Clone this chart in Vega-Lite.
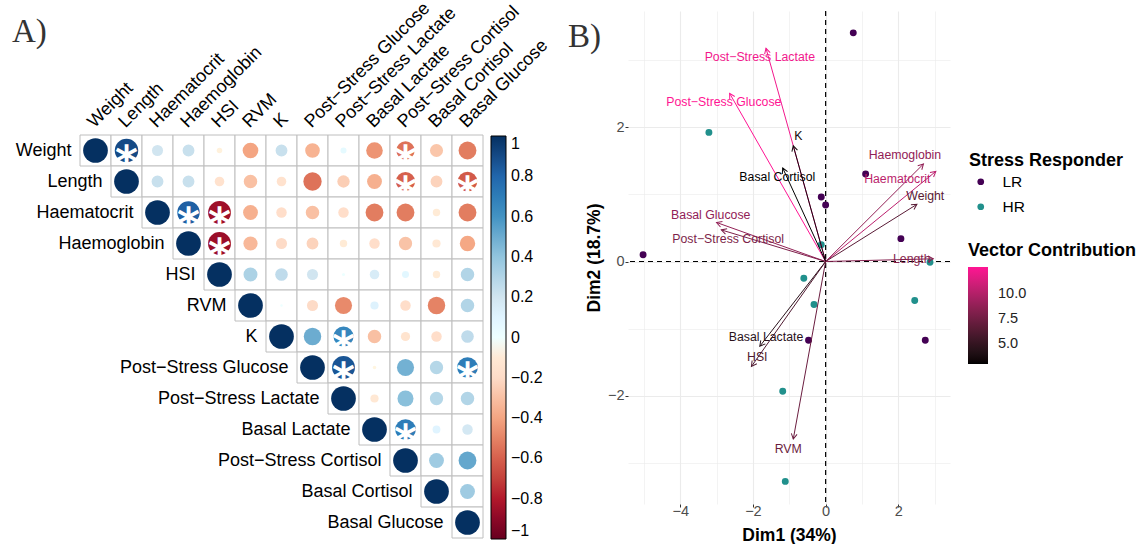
{
  "$schema": "https://vega.github.io/schema/vega-lite/v6.json",
  "background": "white",
  "padding": {"left": 12, "top": -1, "right": 0, "bottom": 0},
  "autosize": {"type": "pad"},
  "spacing": 145,
  "bounds": "flush",
  "config": {
    "view": {"stroke": null},
    "font": "Liberation Sans",
    "legend": {"padding": 0, "labelFont": "Liberation Sans", "titleFont": "Liberation Sans"}
  },
  "datasets": {
    "vars": [
      {"name": "Weight"}, {"name": "Length"}, {"name": "Haematocrit"}, {"name": "Haemoglobin"},
      {"name": "HSI"}, {"name": "RVM"}, {"name": "K"}, {"name": "Post−Stress Glucose"},
      {"name": "Post−Stress Lactate"}, {"name": "Basal Lactate"}, {"name": "Post−Stress Cortisol"},
      {"name": "Basal Cortisol"}, {"name": "Basal Glucose"}
    ],
    "corr": [
      {"v1": "Weight", "v2": "Weight", "r": 1, "sig": 0},
      {"v1": "Weight", "v2": "Length", "r": 0.9, "sig": 1},
      {"v1": "Weight", "v2": "Haematocrit", "r": 0.2, "sig": 0},
      {"v1": "Weight", "v2": "Haemoglobin", "r": 0.23, "sig": 0},
      {"v1": "Weight", "v2": "HSI", "r": -0.05, "sig": 0},
      {"v1": "Weight", "v2": "RVM", "r": -0.4, "sig": 0},
      {"v1": "Weight", "v2": "K", "r": 0.23, "sig": 0},
      {"v1": "Weight", "v2": "Post−Stress Glucose", "r": -0.35, "sig": 0},
      {"v1": "Weight", "v2": "Post−Stress Lactate", "r": 0.06, "sig": 0},
      {"v1": "Weight", "v2": "Basal Lactate", "r": -0.45, "sig": 0},
      {"v1": "Weight", "v2": "Post−Stress Cortisol", "r": -0.55, "sig": 1},
      {"v1": "Weight", "v2": "Basal Cortisol", "r": -0.28, "sig": 0},
      {"v1": "Weight", "v2": "Basal Glucose", "r": -0.52, "sig": 0},
      {"v1": "Length", "v2": "Length", "r": 1, "sig": 0},
      {"v1": "Length", "v2": "Haematocrit", "r": 0.23, "sig": 0},
      {"v1": "Length", "v2": "Haemoglobin", "r": 0.23, "sig": 0},
      {"v1": "Length", "v2": "HSI", "r": -0.15, "sig": 0},
      {"v1": "Length", "v2": "RVM", "r": -0.3, "sig": 0},
      {"v1": "Length", "v2": "K", "r": -0.15, "sig": 0},
      {"v1": "Length", "v2": "Post−Stress Glucose", "r": -0.55, "sig": 0},
      {"v1": "Length", "v2": "Post−Stress Lactate", "r": -0.25, "sig": 0},
      {"v1": "Length", "v2": "Basal Lactate", "r": -0.36, "sig": 0},
      {"v1": "Length", "v2": "Post−Stress Cortisol", "r": -0.6, "sig": 1},
      {"v1": "Length", "v2": "Basal Cortisol", "r": -0.23, "sig": 0},
      {"v1": "Length", "v2": "Basal Glucose", "r": -0.62, "sig": 1},
      {"v1": "Haematocrit", "v2": "Haematocrit", "r": 1, "sig": 0},
      {"v1": "Haematocrit", "v2": "Haemoglobin", "r": 0.82, "sig": 1},
      {"v1": "Haematocrit", "v2": "HSI", "r": -0.85, "sig": 1},
      {"v1": "Haematocrit", "v2": "RVM", "r": -0.36, "sig": 0},
      {"v1": "Haematocrit", "v2": "K", "r": -0.18, "sig": 0},
      {"v1": "Haematocrit", "v2": "Post−Stress Glucose", "r": -0.3, "sig": 0},
      {"v1": "Haematocrit", "v2": "Post−Stress Lactate", "r": -0.18, "sig": 0},
      {"v1": "Haematocrit", "v2": "Basal Lactate", "r": -0.52, "sig": 0},
      {"v1": "Haematocrit", "v2": "Post−Stress Cortisol", "r": -0.52, "sig": 0},
      {"v1": "Haematocrit", "v2": "Basal Cortisol", "r": -0.09, "sig": 0},
      {"v1": "Haematocrit", "v2": "Basal Glucose", "r": -0.52, "sig": 0},
      {"v1": "Haemoglobin", "v2": "Haemoglobin", "r": 1, "sig": 0},
      {"v1": "Haemoglobin", "v2": "HSI", "r": -0.86, "sig": 1},
      {"v1": "Haemoglobin", "v2": "RVM", "r": -0.33, "sig": 0},
      {"v1": "Haemoglobin", "v2": "K", "r": -0.2, "sig": 0},
      {"v1": "Haemoglobin", "v2": "Post−Stress Glucose", "r": -0.23, "sig": 0},
      {"v1": "Haemoglobin", "v2": "Post−Stress Lactate", "r": -0.09, "sig": 0},
      {"v1": "Haemoglobin", "v2": "Basal Lactate", "r": -0.18, "sig": 0},
      {"v1": "Haemoglobin", "v2": "Post−Stress Cortisol", "r": -0.29, "sig": 0},
      {"v1": "Haemoglobin", "v2": "Basal Cortisol", "r": -0.11, "sig": 0},
      {"v1": "Haemoglobin", "v2": "Basal Glucose", "r": -0.39, "sig": 0},
      {"v1": "HSI", "v2": "HSI", "r": 1, "sig": 0},
      {"v1": "HSI", "v2": "RVM", "r": 0.32, "sig": 0},
      {"v1": "HSI", "v2": "K", "r": 0.26, "sig": 0},
      {"v1": "HSI", "v2": "Post−Stress Glucose", "r": 0.2, "sig": 0},
      {"v1": "HSI", "v2": "Post−Stress Lactate", "r": 0.015, "sig": 0},
      {"v1": "HSI", "v2": "Basal Lactate", "r": 0.15, "sig": 0},
      {"v1": "HSI", "v2": "Post−Stress Cortisol", "r": 0.08, "sig": 0},
      {"v1": "HSI", "v2": "Basal Cortisol", "r": -0.09, "sig": 0},
      {"v1": "HSI", "v2": "Basal Glucose", "r": 0.3, "sig": 0},
      {"v1": "RVM", "v2": "RVM", "r": 1, "sig": 0},
      {"v1": "RVM", "v2": "K", "r": 0.01, "sig": 0},
      {"v1": "RVM", "v2": "Post−Stress Glucose", "r": -0.2, "sig": 0},
      {"v1": "RVM", "v2": "Post−Stress Lactate", "r": -0.48, "sig": 0},
      {"v1": "RVM", "v2": "Basal Lactate", "r": 0.11, "sig": 0},
      {"v1": "RVM", "v2": "Post−Stress Cortisol", "r": -0.18, "sig": 0},
      {"v1": "RVM", "v2": "Basal Cortisol", "r": -0.5, "sig": 0},
      {"v1": "RVM", "v2": "Basal Glucose", "r": 0.3, "sig": 0},
      {"v1": "K", "v2": "K", "r": 1, "sig": 0},
      {"v1": "K", "v2": "Post−Stress Glucose", "r": 0.5, "sig": 0},
      {"v1": "K", "v2": "Post−Stress Lactate", "r": 0.66, "sig": 1},
      {"v1": "K", "v2": "Basal Lactate", "r": -0.3, "sig": 0},
      {"v1": "K", "v2": "Post−Stress Cortisol", "r": -0.14, "sig": 0},
      {"v1": "K", "v2": "Basal Cortisol", "r": -0.18, "sig": 0},
      {"v1": "K", "v2": "Basal Glucose", "r": 0.26, "sig": 0},
      {"v1": "Post−Stress Glucose", "v2": "Post−Stress Glucose", "r": 1, "sig": 0},
      {"v1": "Post−Stress Glucose", "v2": "Post−Stress Lactate", "r": 0.86, "sig": 1},
      {"v1": "Post−Stress Glucose", "v2": "Basal Lactate", "r": -0.02, "sig": 0},
      {"v1": "Post−Stress Glucose", "v2": "Post−Stress Cortisol", "r": 0.48, "sig": 0},
      {"v1": "Post−Stress Glucose", "v2": "Basal Cortisol", "r": 0.29, "sig": 0},
      {"v1": "Post−Stress Glucose", "v2": "Basal Glucose", "r": 0.7, "sig": 1},
      {"v1": "Post−Stress Lactate", "v2": "Post−Stress Lactate", "r": 1, "sig": 0},
      {"v1": "Post−Stress Lactate", "v2": "Basal Lactate", "r": -0.11, "sig": 0},
      {"v1": "Post−Stress Lactate", "v2": "Post−Stress Cortisol", "r": 0.42, "sig": 0},
      {"v1": "Post−Stress Lactate", "v2": "Basal Cortisol", "r": 0.29, "sig": 0},
      {"v1": "Post−Stress Lactate", "v2": "Basal Glucose", "r": 0.3, "sig": 0},
      {"v1": "Basal Lactate", "v2": "Basal Lactate", "r": 1, "sig": 0},
      {"v1": "Basal Lactate", "v2": "Post−Stress Cortisol", "r": 0.7, "sig": 1},
      {"v1": "Basal Lactate", "v2": "Basal Cortisol", "r": 0.1, "sig": 0},
      {"v1": "Basal Lactate", "v2": "Basal Glucose", "r": 0.18, "sig": 0},
      {"v1": "Post−Stress Cortisol", "v2": "Post−Stress Cortisol", "r": 1, "sig": 0},
      {"v1": "Post−Stress Cortisol", "v2": "Basal Cortisol", "r": 0.36, "sig": 0},
      {"v1": "Post−Stress Cortisol", "v2": "Basal Glucose", "r": 0.52, "sig": 0},
      {"v1": "Basal Cortisol", "v2": "Basal Cortisol", "r": 1, "sig": 0},
      {"v1": "Basal Cortisol", "v2": "Basal Glucose", "r": 0.36, "sig": 0},
      {"v1": "Basal Glucose", "v2": "Basal Glucose", "r": 1, "sig": 0}
    ],
    "scores": [
      {"dim1": 0.76, "dim2": 3.40, "group": "LR"},
      {"dim1": 1.10, "dim2": 1.30, "group": "LR"},
      {"dim1": -0.12, "dim2": 0.96, "group": "LR"},
      {"dim1": 0.0, "dim2": 0.84, "group": "LR"},
      {"dim1": 2.07, "dim2": 0.34, "group": "LR"},
      {"dim1": -5.02, "dim2": 0.10, "group": "LR"},
      {"dim1": -0.47, "dim2": -1.17, "group": "LR"},
      {"dim1": 2.74, "dim2": -1.17, "group": "LR"},
      {"dim1": -3.21, "dim2": 1.92, "group": "HR"},
      {"dim1": -0.12, "dim2": 0.25, "group": "HR"},
      {"dim1": 2.87, "dim2": -0.01, "group": "HR"},
      {"dim1": -0.60, "dim2": -0.25, "group": "HR"},
      {"dim1": -0.32, "dim2": -0.64, "group": "HR"},
      {"dim1": 2.45, "dim2": -0.58, "group": "HR"},
      {"dim1": -1.18, "dim2": -1.93, "group": "HR"},
      {"dim1": -1.11, "dim2": -3.27, "group": "HR"}
    ],
    "vectors": [
      {"name": "Post−Stress Lactate", "dim1": -1.64, "dim2": 3.17, "contrib": 12.2, "lx": -1.81, "ly": 3.04},
      {"name": "Post−Stress Glucose", "dim1": -2.64, "dim2": 2.50, "contrib": 12.64, "lx": -2.80, "ly": 2.37},
      {"name": "K", "dim1": -0.89, "dim2": 1.72, "contrib": 3.5, "lx": -0.75, "ly": 1.86},
      {"name": "Basal Cortisol", "dim1": -1.18, "dim2": 1.39, "contrib": 3.05, "lx": -1.33, "ly": 1.25},
      {"name": "Basal Glucose", "dim1": -3.00, "dim2": 0.58, "contrib": 8.8, "lx": -3.16, "ly": 0.69},
      {"name": "Post−Stress Cortisol", "dim1": -2.87, "dim2": 0.47, "contrib": 8.0, "lx": -2.68, "ly": 0.33},
      {"name": "Haemoglobin", "dim1": 2.69, "dim2": 1.45, "contrib": 8.8, "lx": 2.18, "ly": 1.58},
      {"name": "Haematocrit", "dim1": 3.03, "dim2": 1.34, "contrib": 10.3, "lx": 1.97, "ly": 1.22},
      {"name": "Weight", "dim1": 2.51, "dim2": 0.85, "contrib": 6.6, "lx": 2.74, "ly": 0.98},
      {"name": "Length", "dim1": 2.96, "dim2": 0.04, "contrib": 8.3, "lx": 2.37, "ly": 0.03},
      {"name": "Basal Lactate", "dim1": -1.81, "dim2": -1.26, "contrib": 4.6, "lx": -1.64, "ly": -1.13},
      {"name": "HSI", "dim1": -2.04, "dim2": -1.56, "contrib": 6.2, "lx": -1.88, "ly": -1.42},
      {"name": "RVM", "dim1": -0.89, "dim2": -2.64, "contrib": 7.3, "lx": -1.03, "ly": -2.79}
    ]
  },
  "resolve": {
    "scale": {"x": "independent", "y": "independent", "color": "independent", "size": "independent", "fill": "independent", "stroke": "independent"}
  },
  "hconcat": [
    {
      "width": 403,
      "height": 527,
      "title": {"text": "A)", "font": "Liberation Serif", "fontSize": 33, "fontWeight": "normal", "color": "#333333", "anchor": "start", "frame": "group", "dx": -68, "baseline": "alphabetic", "offset": -76},
      "layer": [
        {
          "data": {"name": "corr"},
          "mark": {"type": "rect", "fill": "white", "stroke": "#BEBEBE", "strokeWidth": 1},
          "encoding": {
            "x": {"field": "v2", "type": "nominal", "axis": null,
              "scale": {"domain": ["Weight", "Length", "Haematocrit", "Haemoglobin", "HSI", "RVM", "K", "Post−Stress Glucose", "Post−Stress Lactate", "Basal Lactate", "Post−Stress Cortisol", "Basal Cortisol", "Basal Glucose"], "paddingInner": 0, "paddingOuter": 0}},
            "y": {"field": "v1", "type": "nominal", "axis": null,
              "scale": {"domain": ["Weight", "Length", "Haematocrit", "Haemoglobin", "HSI", "RVM", "K", "Post−Stress Glucose", "Post−Stress Lactate", "Basal Lactate", "Post−Stress Cortisol", "Basal Cortisol", "Basal Glucose"], "range": [124, 527], "paddingInner": 0, "paddingOuter": 0}}
          }
        },
        {
          "data": {"name": "corr"},
          "mark": {"type": "point", "shape": "circle", "filled": true, "opacity": 1, "strokeWidth": 0},
          "encoding": {
            "x": {"field": "v2", "type": "nominal"},
            "y": {"field": "v1", "type": "nominal"},
            "size": {"field": "r", "type": "quantitative", "legend": null,
              "scale": {"type": "linear", "domain": [-1, 0, 1], "range": [611, 0, 611]}},
            "color": {"field": "r", "type": "quantitative",
              "scale": {"domain": [-1, -0.8, -0.6, -0.4, -0.2, 0, 0.2, 0.4, 0.6, 0.8, 1],
                "range": ["#67001F", "#B2182B", "#D6604D", "#F4A582", "#FDDBC7", "#FFFFFF", "#D1E5F0", "#92C5DE", "#4393C3", "#2166AC", "#053061"]},
              "legend": {"type": "gradient", "title": null, "orient": "none", "legendX": 411, "legendY": 125, "direction": "vertical",
                "gradientLength": 403, "gradientThickness": 15, "gradientStrokeColor": "black", "gradientStrokeWidth": 1,
                "values": [1, 0.8, 0.6, 0.4, 0.2, 0, -0.2, -0.4, -0.6, -0.8, -1], "format": "~g",
                "labelFontSize": 16, "labelColor": "black", "labelOffset": 5, "labelOverlap": false, "labelBaseline": "middle"}}
          }
        },
        {
          "data": {"name": "corr"},
          "transform": [{"filter": "datum.sig == 1"}],
          "mark": {"type": "text", "text": "*", "font": "DejaVu Sans", "fontWeight": "bold", "fontSize": 44, "color": "white", "baseline": "alphabetic", "align": "center", "dy": 26},
          "encoding": {
            "x": {"field": "v2", "type": "nominal"},
            "y": {"field": "v1", "type": "nominal"}
          }
        },
        {
          "data": {"name": "vars"},
          "mark": {"type": "text", "align": "right", "baseline": "middle", "fontSize": 18, "color": "black", "xOffset": -24},
          "encoding": {
            "x": {"field": "name", "type": "nominal"},
            "y": {"field": "name", "type": "nominal"},
            "text": {"field": "name"}
          }
        },
        {
          "data": {"name": "vars"},
          "mark": {"type": "text", "align": "left", "baseline": "alphabetic", "angle": 315, "fontSize": 18, "color": "black", "xOffset": -1, "yOffset": -22},
          "encoding": {
            "x": {"field": "name", "type": "nominal"},
            "y": {"datum": "Weight", "type": "nominal"},
            "text": {"field": "name"}
          }
        }
      ]
    },
    {
      "width": 322,
      "height": 493,
      "title": {"text": "B)", "font": "Liberation Serif", "fontSize": 33, "fontWeight": "normal", "color": "#333333", "anchor": "start", "frame": "group", "dx": -60, "baseline": "alphabetic", "offset": -70},
      "layer": [
        {
          "data": {"values": [{}]},
          "mark": {"type": "rule", "color": "black", "strokeDash": [5, 4], "strokeWidth": 1.2},
          "encoding": {
            "x": {"datum": 0, "type": "quantitative", "title": "Dim1 (34%)",
              "scale": {"domain": [-5.435, 3.42], "nice": false, "zero": false},
              "axis": {"values": [-5, -4, -3, -2, -1, 0, 1, 2, 3], "format": "d",
                "labelExpr": "datum.value % 2 === 0 ? datum.label : ''",
                "grid": true, "gridColor": "#EBEBEB",
                "gridWidth": {"condition": {"test": "datum.value % 2 === 0", "value": 1.1}, "value": 0.6},
                "domain": false, "tickSize": 3,
                "tickColor": {"condition": {"test": "datum.value % 2 === 0", "value": "#333333"}, "value": "transparent"},
                "labelFontSize": 14.5, "labelColor": "#4D4D4D", "labelPadding": -3,
                "titleFontSize": 17.5, "titleFontWeight": "bold", "titleColor": "black", "titlePadding": 9}}
          }
        },
        {
          "data": {"values": [{}]},
          "mark": {"type": "rule", "color": "black", "strokeDash": [5, 4], "strokeWidth": 1.2},
          "encoding": {
            "y": {"datum": 0, "type": "quantitative", "title": "Dim2 (18.7%)",
              "scale": {"domain": [-3.606, 3.725], "nice": false, "zero": false},
              "axis": {"values": [-3, -2, -1, 0, 1, 2, 3], "format": "d",
                "labelExpr": "datum.value % 2 === 0 ? datum.label : ''",
                "grid": true, "gridColor": "#EBEBEB",
                "gridWidth": {"condition": {"test": "datum.value % 2 === 0", "value": 1.1}, "value": 0.6},
                "domain": false, "tickSize": 3,
                "tickColor": {"condition": {"test": "datum.value % 2 === 0", "value": "#333333"}, "value": "transparent"},
                "labelFontSize": 14.5, "labelColor": "#4D4D4D", "labelPadding": 1,
                "titleFontSize": 17.5, "titleFontWeight": "bold", "titleColor": "black", "titlePadding": 4}}
          }
        },
        {
          "data": {"name": "scores"},
          "mark": {"type": "point", "shape": "circle", "filled": true, "size": 48, "opacity": 1, "strokeWidth": 0},
          "encoding": {
            "x": {"field": "dim1", "type": "quantitative", "title": "Dim1 (34%)"},
            "y": {"field": "dim2", "type": "quantitative", "title": "Dim2 (18.7%)"},
            "fill": {"field": "group", "type": "nominal",
              "scale": {"domain": ["LR", "HR"], "range": ["#440154", "#21908C"]},
              "legend": {"title": "Stress Responder", "orient": "none", "legendX": 341, "legendY": 141,
                "symbolType": "circle", "symbolSize": 45, "symbolStrokeWidth": 0, "symbolOffset": 4,
                "labelFontSize": 15.5, "labelColor": "black", "labelOffset": 14,
                "titleFontSize": 18, "titleFontWeight": "bold", "titleColor": "black", "titlePadding": 4, "rowPadding": 8}}
          }
        },
        {
          "data": {"name": "vectors"},
          "mark": {"type": "rule", "strokeWidth": 1},
          "encoding": {
            "x": {"field": "dim1", "type": "quantitative", "title": "Dim1 (34%)"},
            "y": {"field": "dim2", "type": "quantitative", "title": "Dim2 (18.7%)"},
            "x2": {"datum": 0},
            "y2": {"datum": 0},
            "stroke": {"field": "contrib", "type": "quantitative",
              "scale": {"domain": [3.05, 12.64], "range": ["#000000", "#FF1493"], "interpolate": "lab"},
              "legend": {"type": "gradient", "title": "Vector Contribution", "orient": "none", "legendX": 340, "legendY": 231,
                "direction": "vertical", "gradientLength": 97, "gradientThickness": 20, "gradientStrokeWidth": 0,
                "values": [5, 7.5, 10], "format": ".1f", "labelFontSize": 14.5, "labelColor": "#222222", "labelOffset": 10,
                "titleFontSize": 18, "titleFontWeight": "bold", "titleColor": "black", "titlePadding": 7}}
          }
        },
        {
          "data": {"name": "vectors"},
          "transform": [{"calculate": "atan2(datum.dim1 * 36.36, datum.dim2 * 67.25) * 180 / PI", "as": "heading"}],
          "mark": {"type": "point", "shape": "M-0.55,1L0,0L0.55,1", "filled": false, "size": 110, "strokeWidth": 1, "opacity": 1},
          "encoding": {
            "x": {"field": "dim1", "type": "quantitative", "title": "Dim1 (34%)"},
            "y": {"field": "dim2", "type": "quantitative", "title": "Dim2 (18.7%)"},
            "angle": {"field": "heading", "type": "quantitative", "scale": null},
            "color": {"field": "contrib", "type": "quantitative", "legend": null,
              "scale": {"range": ["#000000", "#FF1493"], "interpolate": "lab", "nice": false, "zero": false}}
          }
        },
        {
          "data": {"name": "vectors"},
          "mark": {"type": "text", "fontSize": 12.3, "align": "center", "baseline": "middle"},
          "encoding": {
            "x": {"field": "lx", "type": "quantitative", "title": "Dim1 (34%)"},
            "y": {"field": "ly", "type": "quantitative", "title": "Dim2 (18.7%)"},
            "text": {"field": "name"},
            "color": {"field": "contrib", "type": "quantitative", "legend": null}
          }
        }
      ]
    }
  ]
}
